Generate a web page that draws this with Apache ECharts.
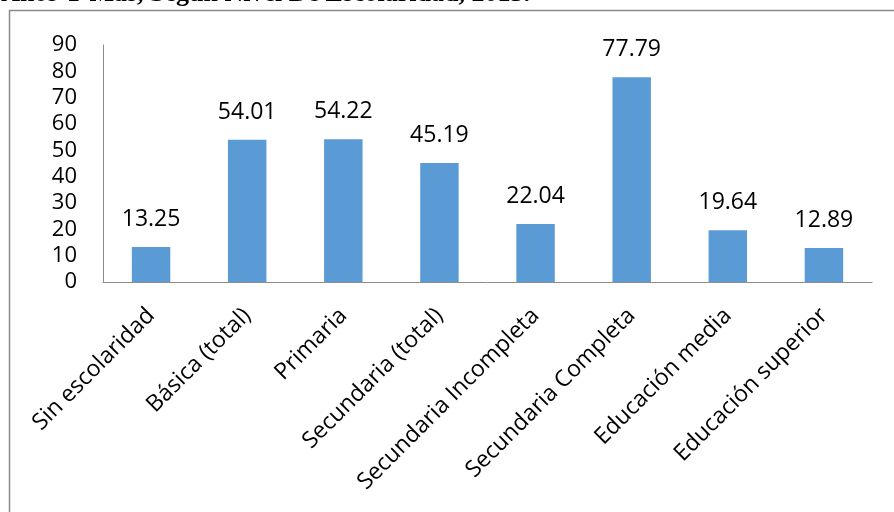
<!DOCTYPE html>
<html>
<head>
<meta charset="utf-8">
<script src="https://cdn.jsdelivr.net/npm/echarts@6/dist/echarts.min.js"></script>
<style>
  html, body { margin: 0; padding: 0; background: #fff; }
  #main { width: 894px; height: 512px; }
</style>
</head>
<body>
<div id="main"></div>
<script>
// datos del grafico
var categorias = ['Sin escolaridad', 'Básica (total)', 'Primaria', 'Secundaria (total)',
    'Secundaria Incompleta', 'Secundaria Completa', 'Educación media', 'Educación superior'];
var valores = [13.25, 54.01, 54.22, 45.19, 22.04, 77.79, 19.64, 12.89];
var titulo = '15 Años Y Más, Según Nivel De Escolaridad, 2015.';

var font = 'Open Sans';
var chart = echarts.init(document.getElementById('main'));

chart.setOption({
    animation: false,
    backgroundColor: '#fff',
    graphic: [
        {
            type: 'text',
            right: 364,
            top: -19,
            style: {
                text: titulo,
                font: 'bold 26px "Liberation Serif"',
                fill: '#000'
            }
        },
        {
            type: 'rect',
            left: 7,
            top: 8,
            shape: { x: 0, y: 0, width: 900, height: 520 },
            style: { fill: 'none', stroke: '#8a8a8a', lineWidth: 1.5 }
        }
    ],
    grid: { left: 103, right: 22, top: 45, bottom: 230 },
    xAxis: {
        type: 'category',
        data: categorias,
        axisLine: { lineStyle: { color: '#8c8c8c', width: 1 } },
        axisTick: { show: false },
        axisLabel: {
            rotate: 45,
            interval: 0,
            margin: 30,
            color: '#000',
            fontFamily: font,
            fontSize: 23
        }
    },
    yAxis: {
        type: 'value',
        min: 0,
        max: 90,
        interval: 10,
        splitLine: { show: false },
        axisLine: { show: true, lineStyle: { color: '#8c8c8c', width: 1 } },
        axisTick: { show: false },
        axisLabel: {
            margin: 26,
            color: '#000',
            fontFamily: font,
            fontSize: 22
        }
    },
    series: [{
        type: 'bar',
        data: valores,
        barWidth: '40%',
        itemStyle: { color: '#5b9bd5' },
        label: {
            show: true,
            position: 'top',
            distance: 16,
            color: '#000',
            fontFamily: font,
            fontSize: 23,
            formatter: function(p) { return p.value.toFixed(2); }
        }
    }]
});
</script>
</body>
</html>
